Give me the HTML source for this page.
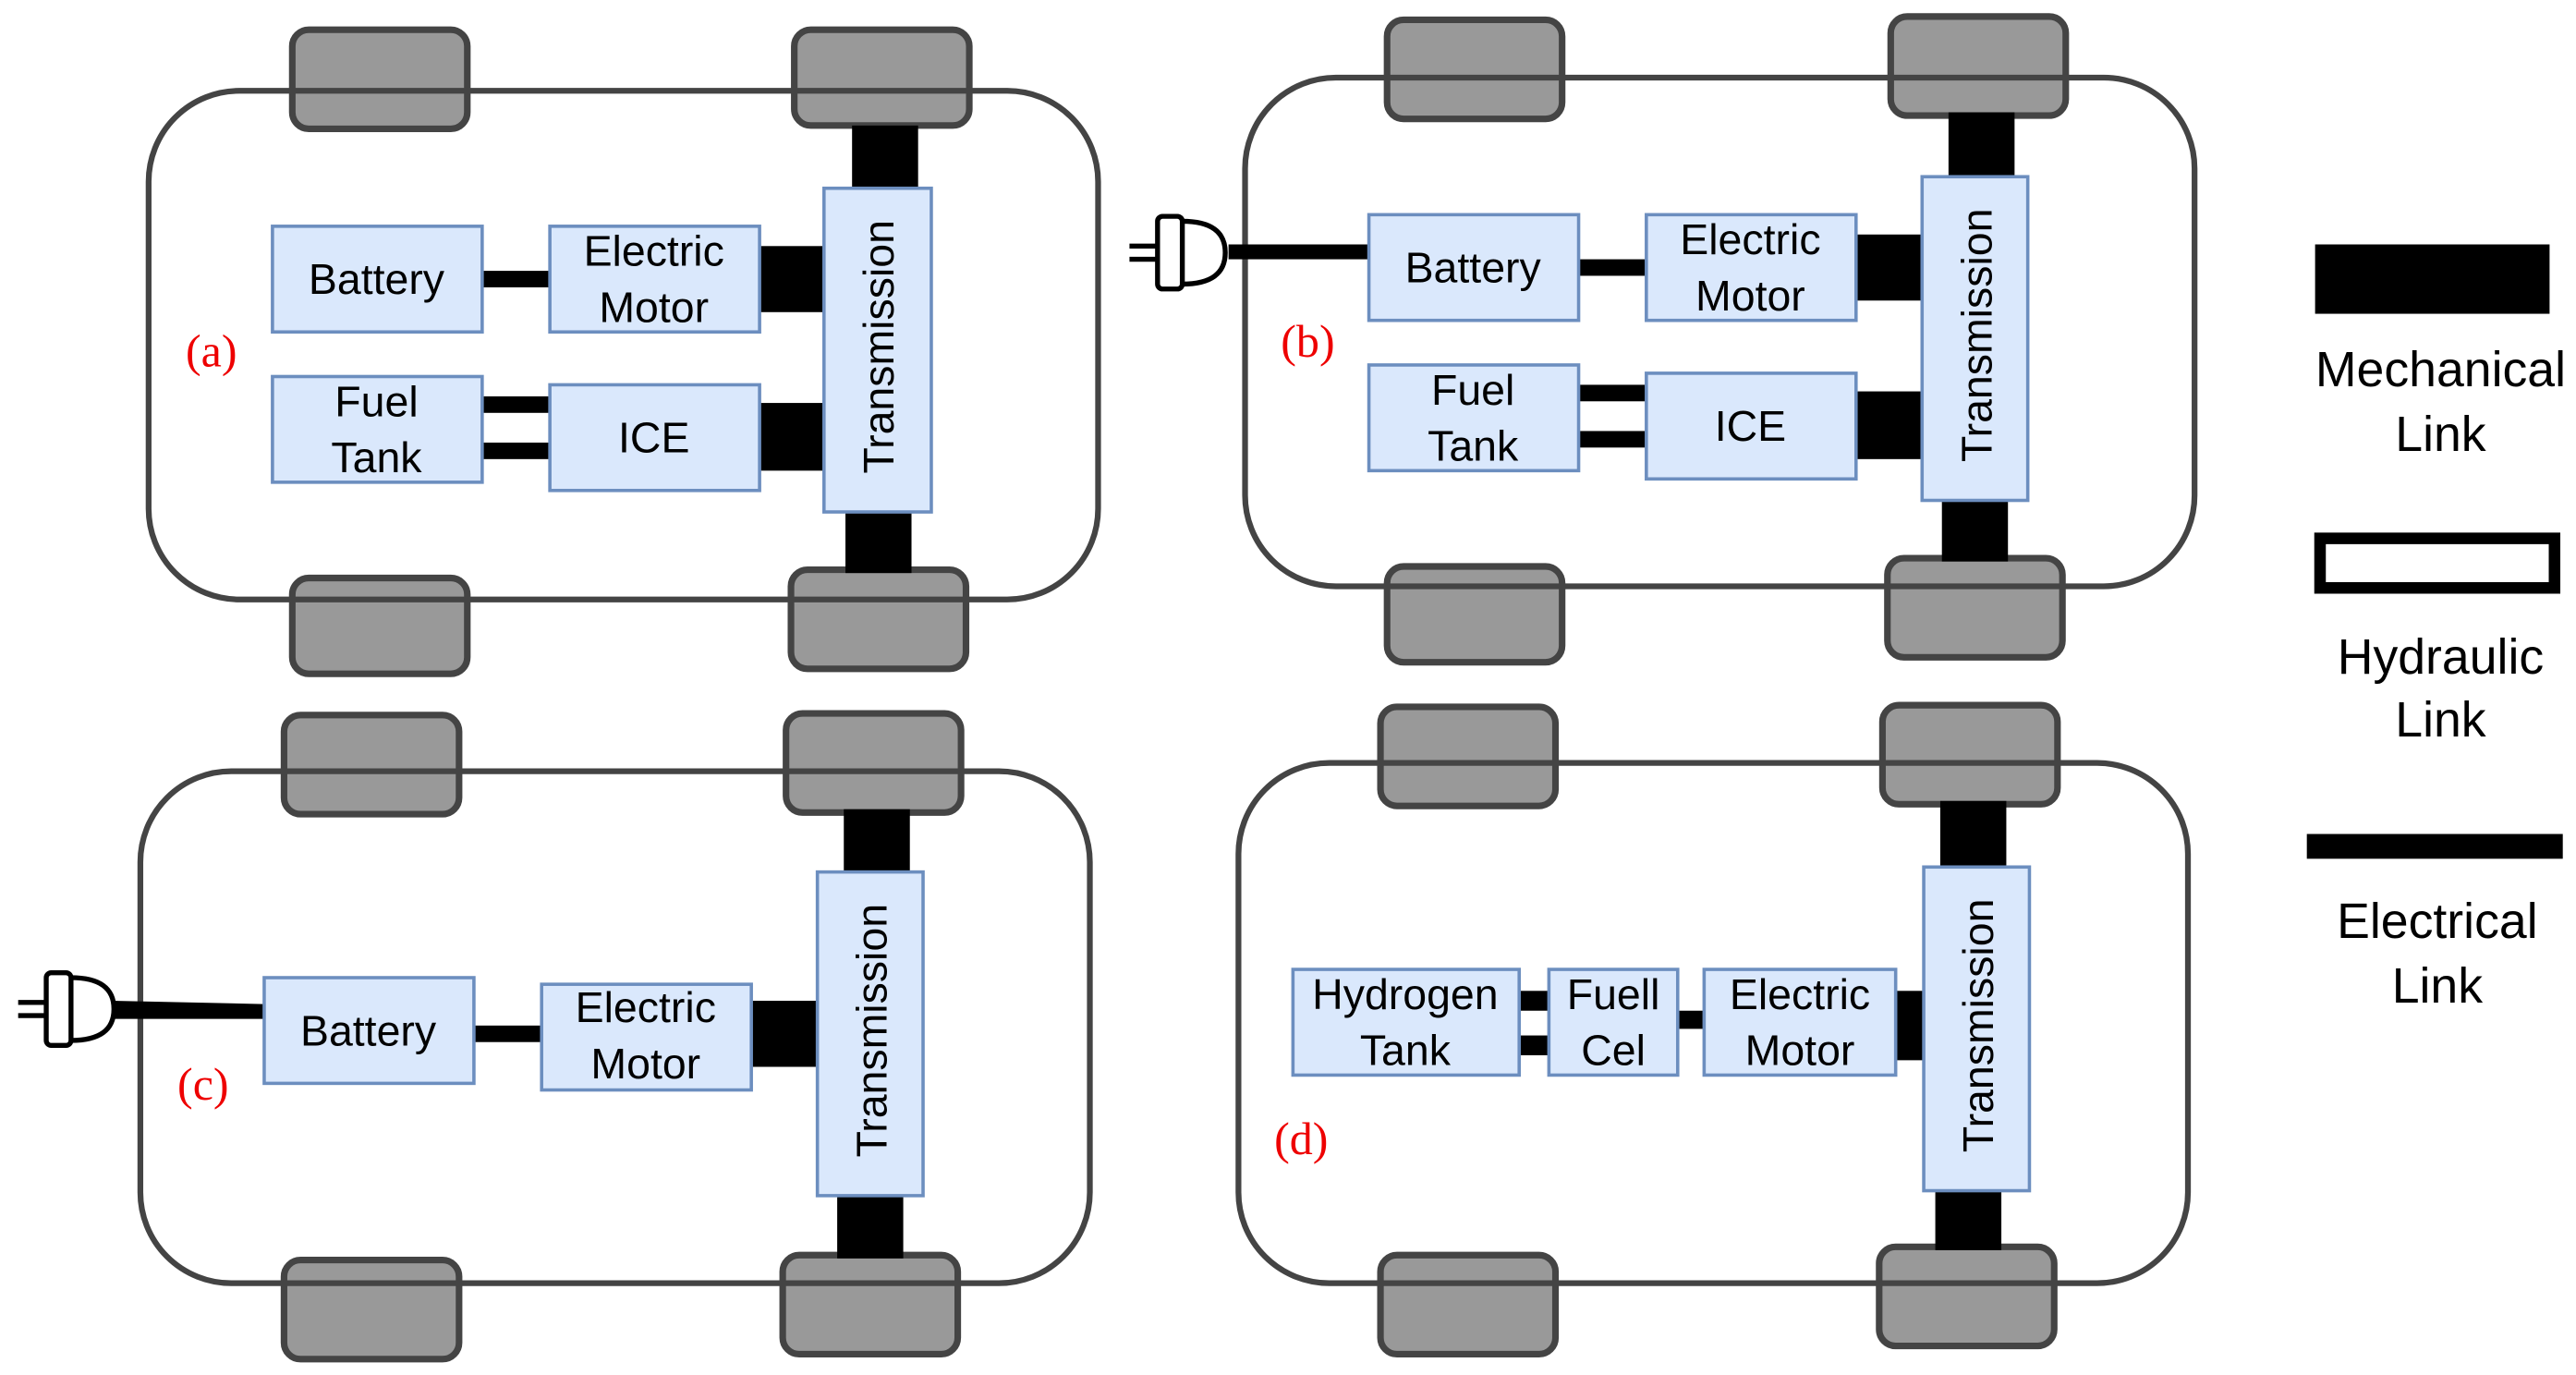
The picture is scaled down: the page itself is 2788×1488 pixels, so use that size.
<!DOCTYPE html>
<html><head><meta charset="utf-8"><style>
html,body{margin:0;padding:0;background:#fff;}
svg{display:block;}
text{font-family:"Liberation Sans",sans-serif;font-size:26px;fill:#000;}
.lab{font-family:"Liberation Serif",serif;fill:#e00;font-size:28px;}
.lg{font-size:30px;}
.body{fill:none;stroke:#444;stroke-width:3.5;}
.wh{fill:#999;stroke:#444;stroke-width:4;}
.bx{fill:#dae8fc;stroke:#6c8ebf;stroke-width:2;}
</style></head><body>
<svg width="2788" height="1488" viewBox="0 0 1560 832.6" preserveAspectRatio="none" xmlns="http://www.w3.org/2000/svg">
<defs>
<g id="plug">
<line x1="-17" y1="-4" x2="0" y2="-4" stroke="#000" stroke-width="3"/>
<line x1="-17" y1="4" x2="0" y2="4" stroke="#000" stroke-width="3"/>
<path d="M15,-19 Q41,-19 41,0 Q41,19 15,19" fill="#fff" stroke="#000" stroke-width="3"/>
<rect x="0" y="-22" width="15" height="44" rx="3" fill="#fff" stroke="#000" stroke-width="3"/>
</g>
</defs>

<!-- Panel a -->
<rect class="wh" x="177" y="18" width="106" height="60" rx="10"/>
<rect class="wh" x="481" y="18" width="106" height="58" rx="10"/>
<rect class="wh" x="177" y="350" width="106" height="58" rx="10"/>
<rect class="wh" x="479" y="345" width="106" height="60" rx="10"/>
<rect class="body" x="90" y="55" width="575" height="308" rx="55"/>
<rect x="516" y="76" width="40" height="40" fill="#000"/>
<rect x="512" y="308" width="40" height="39" fill="#000"/>
<rect x="292" y="164" width="41" height="10" fill="#000"/>
<rect x="460" y="149" width="39" height="40" fill="#000"/>
<rect x="292" y="240" width="41" height="10" fill="#000"/>
<rect x="292" y="268" width="41" height="10" fill="#000"/>
<rect x="460" y="244" width="39" height="41" fill="#000"/>
<rect class="bx" x="165" y="137" width="127" height="64"/>
<text x="228" y="178" text-anchor="middle">Battery</text>
<rect class="bx" x="333" y="137" width="127" height="64"/>
<text x="396" y="161" text-anchor="middle">Electric</text>
<text x="396" y="195" text-anchor="middle">Motor</text>
<rect class="bx" x="165" y="228" width="127" height="64"/>
<text x="228" y="252" text-anchor="middle">Fuel</text>
<text x="228" y="286" text-anchor="middle">Tank</text>
<rect class="bx" x="333" y="233" width="127" height="64"/>
<text x="396" y="274" text-anchor="middle">ICE</text>
<rect class="bx" x="499" y="114" width="65" height="196"/>
<text transform="translate(541,210) rotate(-90)" text-anchor="middle">Transmission</text>
<text class="lab" x="128" y="222" text-anchor="middle">(a)</text>

<!-- Panel b -->
<rect class="wh" x="840" y="12" width="106" height="60" rx="10"/>
<rect class="wh" x="1145" y="10" width="106" height="60" rx="10"/>
<rect class="wh" x="840" y="343" width="106" height="58" rx="10"/>
<rect class="wh" x="1143" y="338" width="106" height="60" rx="10"/>
<rect class="body" x="754" y="47" width="575" height="308" rx="55"/>
<rect x="1180" y="68" width="40" height="40" fill="#000"/>
<rect x="1176" y="301" width="40" height="39" fill="#000"/>
<rect x="956" y="157" width="41" height="10" fill="#000"/>
<rect x="1124" y="142" width="40" height="40" fill="#000"/>
<rect x="956" y="233" width="41" height="10" fill="#000"/>
<rect x="956" y="261" width="41" height="10" fill="#000"/>
<rect x="1124" y="237" width="40" height="41" fill="#000"/>
<rect x="744" y="148" width="85" height="9" fill="#000"/>
<use href="#plug" x="701" y="153"/>
<rect class="bx" x="829" y="130" width="127" height="64"/>
<text x="892" y="171" text-anchor="middle">Battery</text>
<rect class="bx" x="997" y="130" width="127" height="64"/>
<text x="1060" y="154" text-anchor="middle">Electric</text>
<text x="1060" y="188" text-anchor="middle">Motor</text>
<rect class="bx" x="829" y="221" width="127" height="64"/>
<text x="892" y="245" text-anchor="middle">Fuel</text>
<text x="892" y="279" text-anchor="middle">Tank</text>
<rect class="bx" x="997" y="226" width="127" height="64"/>
<text x="1060" y="267" text-anchor="middle">ICE</text>
<rect class="bx" x="1164" y="107" width="64" height="196"/>
<text transform="translate(1206,203) rotate(-90)" text-anchor="middle">Transmission</text>
<text class="lab" x="792" y="216" text-anchor="middle">(b)</text>

<!-- Panel c -->
<rect class="wh" x="172" y="433" width="106" height="60" rx="10"/>
<rect class="wh" x="476" y="432" width="106" height="60" rx="10"/>
<rect class="wh" x="172" y="763" width="106" height="60" rx="10"/>
<rect class="wh" x="474" y="760" width="106" height="60" rx="10"/>
<rect class="body" x="85" y="467" width="575" height="310" rx="55"/>
<rect x="511" y="490" width="40" height="40" fill="#000"/>
<rect x="507" y="722" width="40" height="40" fill="#000"/>
<rect x="287" y="621" width="41" height="10" fill="#000"/>
<rect x="455" y="606" width="40" height="40" fill="#000"/>
<path d="M69,606 L160,608 L160,617 L69,617 Z" fill="#000"/>
<use href="#plug" x="28" y="611"/>
<rect class="bx" x="160" y="592" width="127" height="64"/>
<text x="223" y="633" text-anchor="middle">Battery</text>
<rect class="bx" x="328" y="596" width="127" height="64"/>
<text x="391" y="619" text-anchor="middle">Electric</text>
<text x="391" y="653" text-anchor="middle">Motor</text>
<rect class="bx" x="495" y="528" width="64" height="196"/>
<text transform="translate(537,624) rotate(-90)" text-anchor="middle">Transmission</text>
<text class="lab" x="123" y="666" text-anchor="middle">(c)</text>

<!-- Panel d -->
<rect class="wh" x="836" y="428" width="106" height="60" rx="10"/>
<rect class="wh" x="1140" y="427" width="106" height="60" rx="10"/>
<rect class="wh" x="836" y="760" width="106" height="60" rx="10"/>
<rect class="wh" x="1138" y="755" width="106" height="60" rx="10"/>
<rect class="body" x="750" y="462" width="575" height="315" rx="55"/>
<rect x="1175" y="485" width="40" height="42" fill="#000"/>
<rect x="1172" y="719" width="40" height="38" fill="#000"/>
<rect x="920" y="600" width="18" height="12" fill="#000"/>
<rect x="920" y="627" width="18" height="12" fill="#000"/>
<rect x="1016" y="612" width="16" height="11" fill="#000"/>
<rect x="1148" y="600" width="17" height="42" fill="#000"/>
<rect class="bx" x="783" y="587" width="137" height="64"/>
<text x="851" y="611" text-anchor="middle">Hydrogen</text>
<text x="851" y="645" text-anchor="middle">Tank</text>
<rect class="bx" x="938" y="587" width="78" height="64"/>
<text x="977" y="611" text-anchor="middle">Fuell</text>
<text x="977" y="645" text-anchor="middle">Cel</text>
<rect class="bx" x="1032" y="587" width="116" height="64"/>
<text x="1090" y="611" text-anchor="middle">Electric</text>
<text x="1090" y="645" text-anchor="middle">Motor</text>
<rect class="bx" x="1165" y="525" width="64" height="196"/>
<text transform="translate(1207,621) rotate(-90)" text-anchor="middle">Transmission</text>
<text class="lab" x="788" y="699" text-anchor="middle">(d)</text>

<!-- Legend -->
<rect x="1402" y="148" width="142" height="42" fill="#000"/>
<text class="lg" x="1478" y="234" text-anchor="middle">Mechanical</text>
<text class="lg" x="1478" y="273" text-anchor="middle">Link</text>
<rect x="1405" y="326" width="142" height="30" fill="#fff" stroke="#000" stroke-width="7"/>
<text class="lg" x="1478" y="408" text-anchor="middle">Hydraulic</text>
<text class="lg" x="1478" y="446" text-anchor="middle">Link</text>
<rect x="1397" y="505" width="155" height="15" fill="#000"/>
<text class="lg" x="1476" y="568" text-anchor="middle">Electrical</text>
<text class="lg" x="1476" y="607" text-anchor="middle">Link</text>
</svg>
</body></html>
